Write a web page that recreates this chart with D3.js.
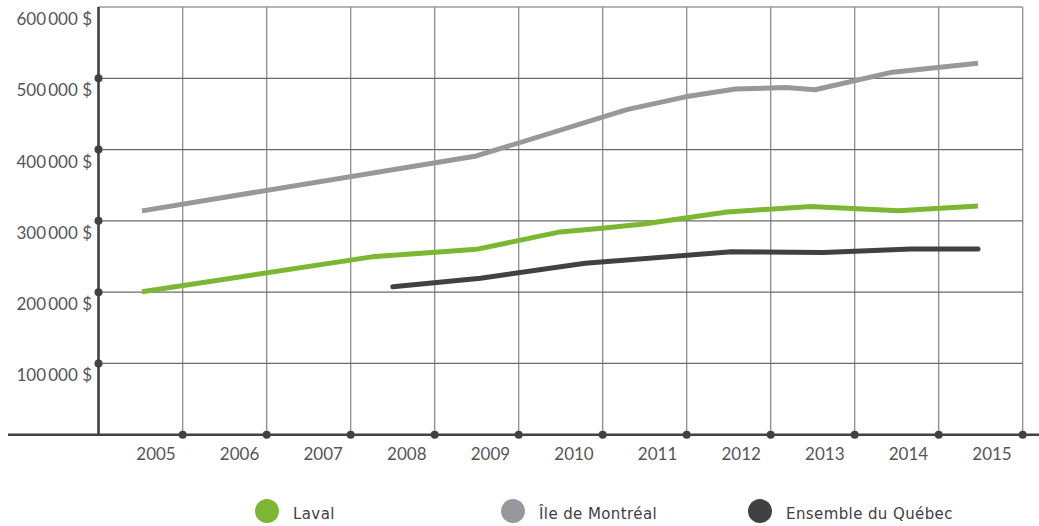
<!DOCTYPE html>
<html>
<head>
<meta charset="utf-8">
<script src="https://cdn.jsdelivr.net/npm/d3@7"></script>
<style>
  body { margin: 0; background: #fff; }
  svg { display: block; }
</style>
</head>
<body>
<svg id="drawing_region"></svg>
<script>
// values: [year, value in $]
const lavalData = [
    [2005, 200500], [2007.75, 249500], [2009, 260000], [2010, 284500],
    [2010.5, 289500], [2011, 295500], [2012, 312500], [2013, 320000],
    [2014.05, 314000], [2015, 321000]
];
const montrealData = [
    [2005, 314000], [2009, 391000], [2010.8, 456000], [2011.5, 474000],
    [2012.1, 485000], [2012.7, 487000], [2013.05, 484000], [2013.95, 508000],
    [2015, 521000]
];
const quebecData = [
    [2008, 207500], [2009.05, 219500], [2010.3, 240500], [2012.05, 256500],
    [2013.15, 255500], [2014.2, 260500], [2015, 260500]
];
const seriesNames = ["Laval", "Île de Montréal", "Ensemble du Québec"];
const seriesColors = ["#7cb733", "#98989c", "#414042"];
const years = [2005, 2006, 2007, 2008, 2009, 2010, 2011, 2012, 2013, 2014, 2015];
const yTicks = [100000, 200000, 300000, 400000, 500000, 600000];

const config = {
    width: 1039,
    height: 526,
    left: 98.5,
    right: 1022.7,
    top: 7,
    bottom: 434.7
};

const svg = d3.select('#drawing_region')
    .attr('width', config.width)
    .attr('height', config.height);

const xscale = d3.scaleLinear()
    .domain([2005, 2015])
    .range([142, 978]);

// grid columns sit between the years
const gridscale = d3.scaleLinear()
    .domain([2005, 2015])
    .range([182.7, config.right]);

const yscale = d3.scaleLinear()
    .domain([0, 600000])
    .range([config.bottom, config.top]);

const locale = d3.formatLocale({
    decimal: ",", thousands: "\u2009", grouping: [3], currency: ["", " $"]
});
const fmt = locale.format("$,.0f");

// vertical grid
svg.append('g').selectAll('line')
    .data(years)
    .join('line')
    .attr('x1', d => gridscale(d)).attr('x2', d => gridscale(d))
    .attr('y1', config.top).attr('y2', config.bottom)
    .attr('stroke', '#8c8c8c')
    .attr('stroke-width', 1.3);

// horizontal grid
svg.append('g').selectAll('line')
    .data(yTicks)
    .join('line')
    .attr('x1', config.left).attr('x2', config.right)
    .attr('y1', d => yscale(d)).attr('y2', d => yscale(d))
    .attr('stroke', d => d == 600000 ? '#9a9a9a' : '#6a6a6a')
    .attr('stroke-width', 1.3);

// y labels
svg.append('g').selectAll('text')
    .data(yTicks)
    .join('text')
    .attr('x', 92)
    .attr('y', d => yscale(d) + 18)
    .attr('text-anchor', 'end')
    .attr('font-family', 'Lato, sans-serif')
    .attr('font-size', '17px')
    .attr('fill', '#555558')
    .text(d => fmt(d));

// x labels
svg.append('g').selectAll('text')
    .data(years)
    .join('text')
    .attr('x', d => xscale(d) + 14)
    .attr('y', 460)
    .attr('text-anchor', 'middle')
    .attr('font-family', 'Lato, sans-serif')
    .attr('font-size', '17px')
    .attr('fill', '#555558')
    .text(d => d);

// lines
const line = d3.line()
    .x(d => xscale(d[0]))
    .y(d => yscale(d[1]));

[montrealData, lavalData, quebecData].forEach((data, i) => {
    const idx = [1, 0, 2][i];
    svg.append('path')
        .datum(data)
        .attr('d', line)
        .attr('fill', 'none')
        .attr('stroke', seriesColors[idx])
        .attr('stroke-width', 5)
        .attr('stroke-linejoin', 'round')
        .attr('stroke-linecap', idx == 2 ? 'round' : 'butt');
});

// axes
svg.append('line')
    .attr('x1', config.left).attr('x2', config.left)
    .attr('y1', config.top).attr('y2', config.bottom)
    .attr('stroke', '#414042').attr('stroke-width', 2.6);

svg.append('line')
    .attr('x1', 8).attr('x2', config.width)
    .attr('y1', config.bottom).attr('y2', config.bottom)
    .attr('stroke', '#414042').attr('stroke-width', 2.6);

svg.append('g').selectAll('circle')
    .data(yTicks.filter(d => d < 600000))
    .join('circle')
    .attr('cx', config.left)
    .attr('cy', d => yscale(d))
    .attr('r', 4)
    .attr('fill', '#414042');

svg.append('g').selectAll('circle')
    .data(years)
    .join('circle')
    .attr('cx', d => gridscale(d))
    .attr('cy', config.bottom)
    .attr('r', 4)
    .attr('fill', '#414042');

// legend
const legendX = [267, 513, 760];
const legend = svg.append('g').selectAll('g')
    .data(seriesNames)
    .join('g')
    .attr('transform', (d, i) => `translate(${legendX[i]}, 511)`);

legend.append('circle')
    .attr('r', 12)
    .attr('fill', (d, i) => seriesColors[i]);

legend.append('text')
    .attr('x', 26)
    .attr('y', 8)
    .attr('font-family', '"DejaVu Sans", sans-serif')
    .attr('font-size', '15px')
    .attr('letter-spacing', '0.4px')
    .attr('fill', '#414042')
    .text(d => d);
</script>
</body>
</html>
